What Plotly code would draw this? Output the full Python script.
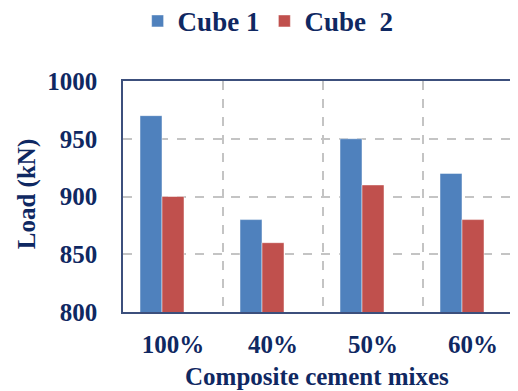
import plotly.graph_objects as go

categories = ["100%", "40%", "50%", "60%"]
cube1 = [970, 880, 950, 920]
cube2 = [900, 860, 910, 880]
y_ticks = [800, 850, 900, 950, 1000]

navy = "#0f2862"
font_family = "Liberation Serif, Times New Roman, serif"
idx = list(range(len(categories)))

# the html page has an 8px body margin, so the figure is sized to fit the window
fig = go.Figure()
fig.add_trace(go.Bar(x=idx, y=cube1, name="Cube 1", width=0.22, offset=-0.33,
                     marker=dict(color="#4F81BD", line=dict(color="rgba(255,255,255,0.6)", width=0.8))))
fig.add_trace(go.Bar(x=idx, y=cube2, name="Cube  2", width=0.22, offset=-0.11,
                     marker=dict(color="#C0504D", line=dict(color="rgba(255,255,255,0.6)", width=0.8))))

fig.update_layout(
    width=510, height=383,
    margin=dict(l=115, r=0, t=73, b=79, autoexpand=False),
    plot_bgcolor="white", paper_bgcolor="white",
    font=dict(family=font_family, color=navy, size=24),
    showlegend=True,
    legend=dict(orientation="h", x=0.037, xanchor="left", y=1.258, yanchor="middle",
                yref="paper",
                font=dict(size=27, family=font_family, color=navy, weight="bold"),
                itemwidth=30, traceorder="normal"),
    annotations=[
        dict(text="<b>Composite cement mixes</b>", xref="paper", yref="paper",
             x=0.49, y=-0.281, xanchor="center", yanchor="middle", showarrow=False,
             font=dict(size=25, family=font_family, color=navy)),
        dict(text="<b>Load (kN)</b>", xref="paper", yref="paper", textangle=-90,
             x=-0.243, y=0.51, xanchor="center", yanchor="middle", showarrow=False,
             font=dict(size=25, family=font_family, color=navy)),
    ],
)
fig.update_xaxes(
    range=[-0.5, 3.45], tickvals=idx, ticktext=categories, automargin=False,
    showgrid=False, zeroline=False,
    showline=True, linecolor="#3c4f7c", linewidth=1.5, mirror=True,
    ticks="", ticklabelstandoff=9,
    tickfont=dict(size=25, family=font_family, color=navy, weight="bold"),
    minor=dict(tickvals=[i + 0.5 for i in idx[:-1]], showgrid=True,
               gridcolor="#c4c4c4", griddash="dash", gridwidth=1.5),
)
fig.update_yaxes(
    range=[800, 1000], tickvals=y_ticks, automargin=False,
    showgrid=True, gridcolor="#c4c4c4", griddash="dash", gridwidth=1.5,
    zeroline=False, showline=True, linecolor="#3c4f7c", linewidth=1.5,
    ticks="", ticklabelstandoff=19,
    tickfont=dict(size=25, family=font_family, color=navy, weight="bold"),
)

fig.write_html("out.html")
